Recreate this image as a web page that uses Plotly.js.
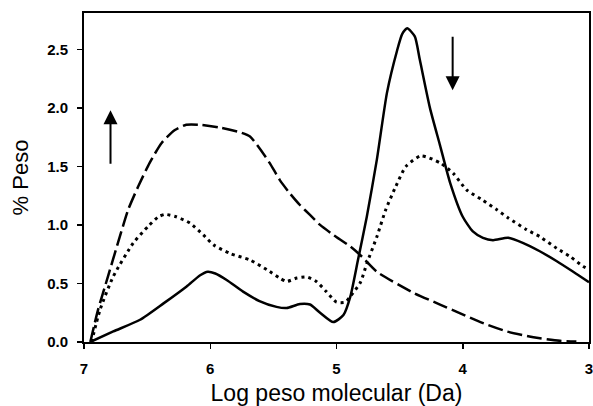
<!DOCTYPE html>
<html>
<head>
<meta charset="utf-8">
<script src="https://cdn.plot.ly/plotly-3.0.1.min.js"></script>
<style>
  html, body { margin: 0; padding: 0; background: #fff; }
  #chart { width: 593px; height: 406px; }
</style>
</head>
<body>
<div id="chart"></div>
<script>
// Dashed series
const dashX = [6.95, 6.89, 6.81, 6.73, 6.65, 6.57, 6.48, 6.385, 6.28, 6.19, 6.08, 5.92, 5.76, 5.685, 5.61, 5.53, 5.45, 5.37, 5.29, 5.21, 5.13, 5.025, 4.89, 4.80, 4.68, 4.39, 4.18, 4.02, 3.86, 3.65, 3.44, 3.23, 3.10];
const dashY = [0.00, 0.27, 0.56, 0.85, 1.13, 1.33, 1.53, 1.70, 1.81, 1.855, 1.855, 1.83, 1.79, 1.755, 1.655, 1.53, 1.385, 1.27, 1.17, 1.085, 1.00, 0.915, 0.815, 0.73, 0.60, 0.42, 0.32, 0.245, 0.17, 0.09, 0.04, 0.01, 0.005];

// Dotted series
const dotX = [6.94, 6.873, 6.768, 6.61, 6.49, 6.41, 6.36, 6.27, 6.16, 6.055, 5.975, 5.84, 5.685, 5.55, 5.45, 5.395, 5.315, 5.235, 5.16, 5.08, 5.00, 4.93, 4.89, 4.81, 4.76, 4.68, 4.61, 4.53, 4.45, 4.33, 4.18, 4.075, 3.97, 3.84, 3.73, 3.64, 3.495, 3.39, 3.255, 3.15, 3.045, 3.00];
const dotY = [0.00, 0.275, 0.56, 0.845, 0.99, 1.07, 1.09, 1.07, 1.015, 0.915, 0.83, 0.755, 0.70, 0.617, 0.546, 0.517, 0.546, 0.555, 0.517, 0.43, 0.34, 0.34, 0.39, 0.51, 0.67, 0.90, 1.13, 1.33, 1.50, 1.59, 1.53, 1.44, 1.30, 1.21, 1.13, 1.06, 0.96, 0.90, 0.80, 0.73, 0.645, 0.62];

// Solid series
const solidX = [6.95, 6.768, 6.556, 6.37, 6.187, 6.08, 6.02, 5.96, 5.87, 5.74, 5.61, 5.475, 5.395, 5.29, 5.21, 5.13, 5.025, 4.945, 4.89, 4.83, 4.76, 4.68, 4.60, 4.52, 4.48, 4.44, 4.38, 4.34, 4.26, 4.18, 4.10, 4.00, 3.92, 3.84, 3.76, 3.64, 3.52, 3.39, 3.255, 3.125, 3.00];
const solidY = [0.00, 0.09, 0.19, 0.33, 0.475, 0.57, 0.60, 0.585, 0.53, 0.43, 0.35, 0.30, 0.29, 0.325, 0.32, 0.25, 0.17, 0.23, 0.39, 0.70, 1.07, 1.56, 2.13, 2.49, 2.63, 2.68, 2.61, 2.41, 2.00, 1.68, 1.36, 1.07, 0.945, 0.89, 0.87, 0.89, 0.845, 0.775, 0.69, 0.60, 0.51];

// Axis ticks
const xTicks = [7, 6, 5, 4, 3];
const xTickText = ['7', '6', '5', '4', '3'];
const yTicks = [0, 0.5, 1.0, 1.5, 2.0, 2.5];
const yTickText = ['0.0', '0.5', '1.0', '1.5', '2.0', '2.5'];

// Arrows: [x, tailY, headY]
const arrowUp = [6.79, 1.51, 1.98];
const arrowDown = [4.08, 2.62, 2.15];

const font = '"Liberation Sans", Arial, Helvetica, sans-serif';

const traces = [
  { x: dashX, y: dashY, mode: 'lines', line: { color: '#000', width: 2.5, dash: '15px,5px', shape: 'spline', smoothing: 0.6 }, hoverinfo: 'skip' },
  { x: dotX, y: dotY, mode: 'lines', line: { color: '#000', width: 3, dash: '3px,4px', shape: 'spline', smoothing: 0.6 }, hoverinfo: 'skip' },
  { x: solidX, y: solidY, mode: 'lines', line: { color: '#000', width: 2.5, shape: 'spline', smoothing: 0.6 }, hoverinfo: 'skip' }
];

function arrow(a) {
  return {
    x: a[0], y: a[2], ax: a[0], ay: a[1],
    xref: 'x', yref: 'y', axref: 'x', ayref: 'y',
    text: '', showarrow: true, arrowhead: 2, arrowsize: 1.4, arrowwidth: 2, arrowcolor: '#000',
    standoff: 0, startstandoff: 0
  };
}

const layout = {
  width: 593, height: 406,
  margin: { l: 84, r: 4, t: 13, b: 64 },
  paper_bgcolor: '#fff', plot_bgcolor: '#fff',
  showlegend: false,
  font: { family: font, color: '#000' },
  xaxis: {
    range: [7, 3], tickvals: xTicks, ticktext: xTickText,
    showgrid: false, zeroline: false,
    showline: true, linecolor: '#000', linewidth: 2, mirror: true,
    ticks: 'outside', ticklen: 5, tickwidth: 1.5, tickcolor: '#000',
    ticklabelstandoff: 7, ticklabeloverflow: 'allow',
    tickfont: { family: font, size: 15, color: '#000', weight: 'bold' },
    title: { text: 'Log peso molecular (Da)', font: { family: font, size: 23, color: '#000' }, standoff: 12 }
  },
  yaxis: {
    range: [0, 2.81], tickvals: yTicks, ticktext: yTickText,
    showgrid: false, zeroline: false,
    showline: true, linecolor: '#000', linewidth: 2, mirror: true,
    ticks: 'outside', ticklen: 5, tickwidth: 1.5, tickcolor: '#000',
    ticklabelstandoff: 6,
    tickfont: { family: font, size: 15, color: '#000', weight: 'bold' },
    title: { text: '% Peso', font: { family: font, size: 22, color: '#000' }, standoff: 12 }
  },
  annotations: [arrow(arrowUp), arrow(arrowDown)]
};

Plotly.newPlot('chart', traces, layout, { displayModeBar: false, staticPlot: true });
</script>
</body>
</html>
